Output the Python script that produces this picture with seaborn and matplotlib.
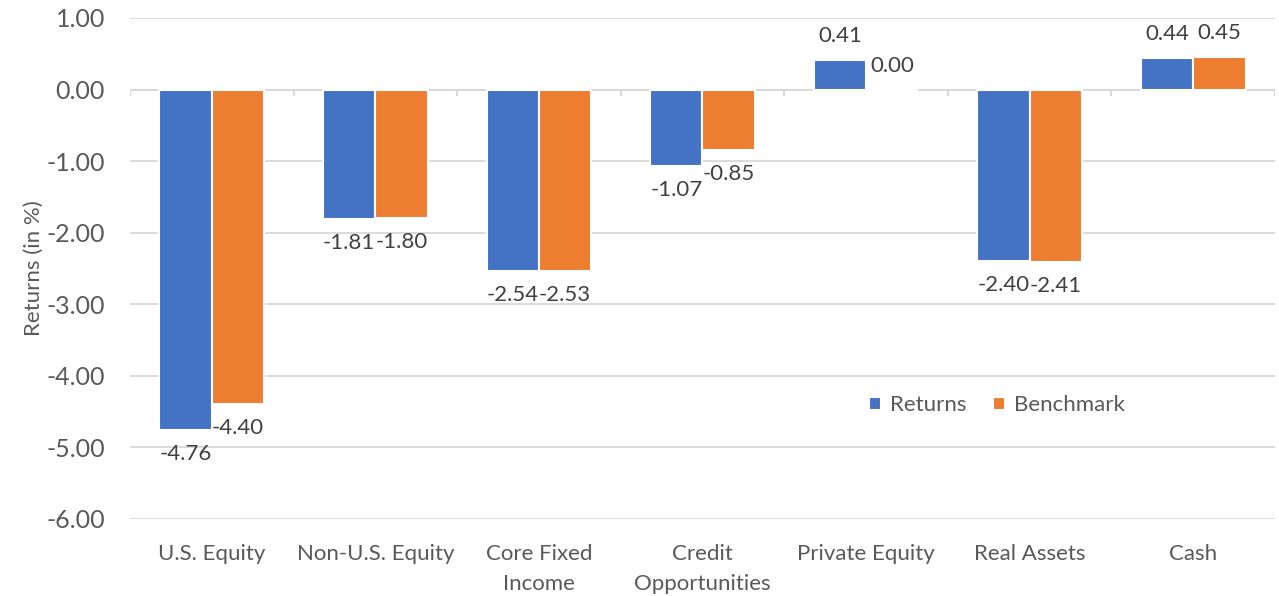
import matplotlib
matplotlib.use("Agg")
import matplotlib.pyplot as plt
import seaborn as sns
import pandas as pd
import numpy as np

categories = ["U.S. Equity", "Non-U.S. Equity", "Core Fixed\nIncome", "Credit\nOpportunities",
              "Private Equity", "Real Assets", "Cash"]
returns = [-4.76, -1.81, -2.54, -1.07, 0.41, -2.40, 0.44]
benchmark = [-4.40, -1.80, -2.53, -0.85, 0.00, -2.41, 0.45]
series = ["Returns", "Benchmark"]
colors = ["#4472C4", "#ED7D31"]
yticks = [1, 0, -1, -2, -3, -4, -5, -6]

df = pd.DataFrame({
    "Category": categories * 2,
    "Value": returns + benchmark,
    "Series": [series[0]] * len(categories) + [series[1]] * len(categories),
})

sns.set_theme(style="white")
plt.rcParams["font.family"] = ["Lato", "DejaVu Sans"]
plt.rcParams["axes.unicode_minus"] = False

fig = plt.figure(figsize=(12.79, 5.96), dpi=100)
ax = fig.add_axes([0.1016, 0.1292, 0.8953, 0.8406])

sns.barplot(data=df, x="Category", y="Value", hue="Series", hue_order=series,
            palette=colors, width=0.64, gap=0, edgecolor="white", linewidth=1.5,
            saturation=1, ax=ax, zorder=3, legend=True)

ax.set_ylim(-6, 1)
ax.set_yticks(yticks)
ax.set_yticklabels([f"{v:.2f}" for v in yticks])
ax.yaxis.grid(True, color="#d9d9d9", linewidth=1.3, zorder=0)
ax.set_axisbelow(True)
for s in ax.spines.values():
    s.set_visible(False)

# zero axis line with category-boundary ticks
ax.axhline(0, color="#d9d9d9", linewidth=1.5, zorder=2)
n = len(categories)
ax.vlines(np.arange(n + 1) - 0.5, -0.09, 0, color="#d9d9d9", linewidth=1.5, zorder=2)
ax.set_xlim(-0.5, n - 0.5)

ax.tick_params(axis="x", length=0, pad=18, labelsize=16, labelcolor="#595959")
ax.tick_params(axis="y", length=0, pad=18, labelsize=18, labelcolor="#595959")
for t in ax.get_xticklabels():
    t.set_linespacing(1.6)
ax.set_xlabel("")
ax.set_ylabel("Returns (in %)", fontsize=16, color="#595959", labelpad=2)

for cont in ax.containers:
    ax.bar_label(cont, fmt="%.2f", padding=10, fontsize=16, color="#404040")

ax.legend(loc="center", bbox_to_anchor=(0.757, 0.227), frameon=False, ncol=2,
          fontsize=16, handlelength=0.55, handleheight=0.55, handletextpad=0.4,
          columnspacing=1.2, labelcolor="#595959")

fig.savefig("out.png", dpi=100)
